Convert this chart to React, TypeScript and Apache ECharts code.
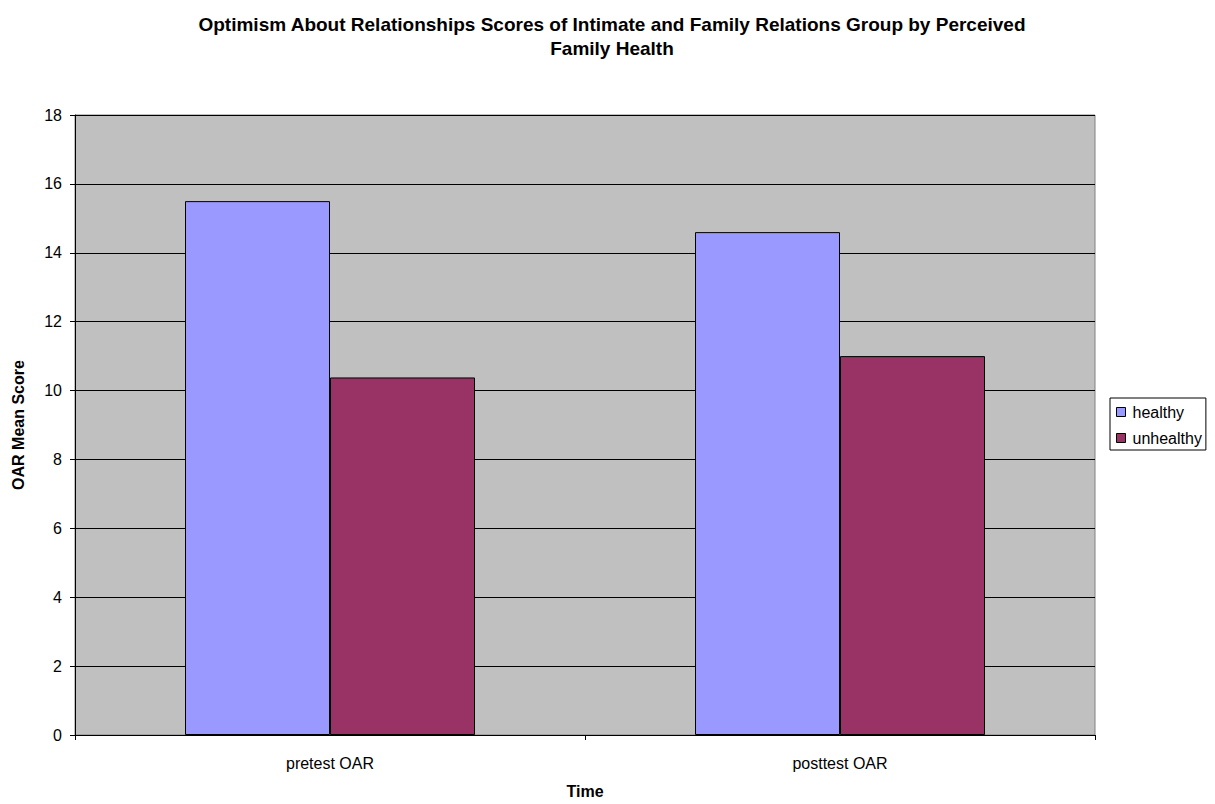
import React, { useEffect, useRef } from "react";
import * as echarts from "echarts";

const categories = ["pretest OAR", "posttest OAR"];
const healthy = [15.5, 14.6];
const unhealthy = [10.38, 11.0];
const seriesNames = ["healthy", "unhealthy"];

export default function App() {
  const ref = useRef<HTMLDivElement>(null);
  useEffect(() => {
    const chart = echarts.init(ref.current!, null, { renderer: "svg" });
    const font = "Liberation Sans, Arial, sans-serif";
    chart.setOption({
      animation: false,
      textStyle: { fontFamily: font },
      title: {
        text: "Optimism About Relationships Scores of Intimate and Family Relations Group by Perceived\nFamily Health",
        left: 607,
        textAlign: "center",
        top: 7,
        textStyle: { fontSize: 19, fontWeight: "bold", color: "#000", lineHeight: 24, fontFamily: font },
      },
      legend: {
        orient: "vertical",
        left: 1110,
        top: 398,
        data: seriesNames,
        icon: "rect",
        itemWidth: 9,
        itemHeight: 9,
        itemGap: 10,
        backgroundColor: "#fff",
        borderColor: "#000",
        borderWidth: 1,
        padding: [6, 4, 4, 6],
        itemStyle: { borderColor: "#000", borderWidth: 1 },
        textStyle: { fontSize: 16, color: "#000", fontFamily: font, padding: [0, 0, 0, 2] },
      },
      grid: {
        left: 75,
        right: 120,
        top: 115,
        bottom: 68,
        show: true,
        backgroundColor: "#c0c0c0",
        borderColor: "#808080",
        borderWidth: 1,
      },
      xAxis: {
        type: "category",
        data: categories,
        name: "Time",
        nameLocation: "middle",
        nameGap: 48,
        nameTextStyle: { fontSize: 16, fontWeight: "bold", color: "#000", fontFamily: font },
        axisLine: { lineStyle: { color: "#000", width: 1 } },
        axisTick: { show: true, length: 5, lineStyle: { color: "#000" } },
        axisLabel: { fontSize: 16, color: "#000", margin: 20, fontFamily: font },
      },
      yAxis: {
        type: "value",
        min: 0,
        max: 18,
        interval: 2,
        name: "OAR Mean Score",
        nameLocation: "middle",
        nameGap: 49,
        nameTextStyle: { fontSize: 16, fontWeight: "bold", color: "#000", fontFamily: font },
        axisLine: { show: true, lineStyle: { color: "#000", width: 1 } },
        axisTick: { show: true, length: 5, lineStyle: { color: "#000" } },
        axisLabel: { fontSize: 16, color: "#000", margin: 13, fontFamily: font },
        splitLine: { show: true, lineStyle: { color: "#000", width: 1 } },
      },
      series: [
        {
          name: seriesNames[0],
          type: "bar",
          data: healthy,
          barWidth: 145,
          barGap: "0%",
          itemStyle: { color: "#9999ff", borderColor: "#000", borderWidth: 1 },
        },
        {
          name: seriesNames[1],
          type: "bar",
          data: unhealthy,
          barWidth: 145,
          barGap: "0%",
          itemStyle: { color: "#993366", borderColor: "#000", borderWidth: 1 },
        },
      ],
    });
    return () => chart.dispose();
  }, []);
  return <div ref={ref} style={{ width: 1215, height: 804, position: "absolute", left: 0, top: 0 }} />;
}
